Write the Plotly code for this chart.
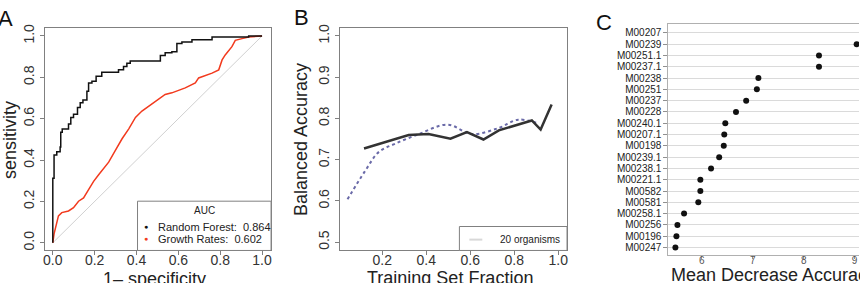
import plotly.graph_objects as go

W, H = 860, 283
FONT = "Liberation Sans, Arial, sans-serif"

def px(x):
    return x / W

def py(y):
    return 1 - y / H

# ---------------- Panel A data (ROC) ----------------
rf_fpr = [0, 0, 0.006, 0.019, 0.035, 0.038, 0.045, 0.075, 0.086, 0.099, 0.118, 0.131, 0.144, 0.163,
          0.171, 0.187, 0.207, 0.234, 0.314, 0.338, 0.354, 0.37, 0.514, 0.537, 0.569, 0.593, 0.617,
          0.665, 0.761, 0.936, 1.0]
rf_tpr = [0, 0.312, 0.424, 0.44, 0.463, 0.535, 0.55, 0.574, 0.606, 0.622, 0.654, 0.677, 0.69, 0.733,
          0.773, 0.781, 0.805, 0.824, 0.836, 0.852, 0.868, 0.879, 0.905, 0.919, 0.924, 0.963, 0.971,
          0.982, 0.995, 1.0, 1.0]
gr_fpr = [0, 0.006, 0.027, 0.043, 0.075, 0.099, 0.123, 0.147, 0.171, 0.195, 0.219, 0.243, 0.267,
          0.299, 0.331, 0.363, 0.395, 0.426, 0.474, 0.537, 0.569, 0.633, 0.681, 0.697, 0.761,
          0.793, 0.809, 0.824, 0.856, 0.872, 0.904, 0.936, 1.0]
gr_tpr = [0, 0.043, 0.13, 0.146, 0.154, 0.17, 0.201, 0.217, 0.257, 0.297, 0.329, 0.36, 0.39,
          0.447, 0.503, 0.551, 0.606, 0.637, 0.67, 0.717, 0.725, 0.749, 0.773, 0.797, 0.82,
          0.836, 0.884, 0.908, 0.948, 0.979, 0.987, 0.995, 1.0]
auc_labels = ["Random Forest:  0.864", "Growth Rates:  0.602"]
roc_ticks = [0.0, 0.2, 0.4, 0.6, 0.8, 1.0]

# ---------------- Panel B data ----------------
b_x_solid = [0.117, 0.32, 0.41, 0.51, 0.585, 0.66, 0.73, 0.88, 0.92, 0.97]
b_y_solid = [0.727, 0.76, 0.762, 0.751, 0.767, 0.749, 0.771, 0.795, 0.773, 0.834]
b_x_dot = [0.042, 0.12, 0.185, 0.26, 0.366, 0.497, 0.607, 0.73, 0.818, 0.91]
b_y_dot = [0.604, 0.671, 0.719, 0.739, 0.762, 0.785, 0.762, 0.777, 0.797, 0.788]
b_xticks = [0.2, 0.4, 0.6, 0.8, 1.0]
b_yticks = [0.5, 0.6, 0.7, 0.8, 0.9, 1.0]

# ---------------- Panel C data ----------------
motifs = ["M00207", "M00239", "M00251.1", "M00237.1", "M00238", "M00251", "M00237", "M00228",
          "M00240.1", "M00207.1", "M00198", "M00239.1", "M00238.1", "M00221.1", "M00582",
          "M00581", "M00258.1", "M00256", "M00196", "M00247"]
mda = [9.5, 9.04, 8.30, 8.30, 7.11, 7.08, 6.87, 6.67, 6.46, 6.44, 6.43, 6.34, 6.18, 5.97, 5.97,
       5.93, 5.65, 5.52, 5.50, 5.48]
c_xticks = [6, 7, 8, 9]

fig = go.Figure()

# Panel A
fig.add_trace(go.Scatter(x=[0, 1], y=[0, 1], mode="lines", line=dict(color="#d0d0d0", width=1),
                         xaxis="x", yaxis="y", showlegend=False, hoverinfo="skip"))
fig.add_trace(go.Scatter(x=gr_fpr, y=gr_tpr, mode="lines", line=dict(color="#f23a1e", width=1.5),
                         xaxis="x", yaxis="y", showlegend=False))
fig.add_trace(go.Scatter(x=rf_fpr, y=rf_tpr, mode="lines", line=dict(color="#111111", width=1.5, shape="hv"),
                         xaxis="x", yaxis="y", showlegend=False))

# Panel B
fig.add_trace(go.Scatter(x=b_x_dot, y=b_y_dot, mode="lines", line=dict(color="#6a6aa8", width=2, dash="dot", shape="spline"),
                         xaxis="x2", yaxis="y2", showlegend=False))
fig.add_trace(go.Scatter(x=b_x_solid, y=b_y_solid, mode="lines", line=dict(color="#333333", width=2.5),
                         xaxis="x2", yaxis="y2", showlegend=False))

# Panel C
fig.add_trace(go.Scatter(x=mda, y=motifs, mode="markers", marker=dict(color="#111111", size=6),
                         xaxis="x3", yaxis="y3", showlegend=False))

def ax(**kw):
    d = dict(showline=True, linecolor="#808080", linewidth=1, mirror=True, ticks="outside",
             ticklen=4, tickcolor="#808080", showgrid=False, zeroline=False,
             tickfont=dict(family=FONT, size=14, color="#333333"))
    d.update(kw)
    return d

fig.update_layout(
    width=W, height=H, margin=dict(l=0, r=0, t=0, b=0),
    paper_bgcolor="white", plot_bgcolor="white",
    xaxis=ax(domain=[px(43), px(270)], range=[-0.038, 1.043], tickvals=roc_ticks,
             ticktext=["0.0", "0.2", "0.4", "0.6", "0.8", "1.0"], anchor="y", ticklabelstandoff=-7),
    yaxis=ax(domain=[py(250), py(24)], range=[-0.037, 1.04], tickvals=roc_ticks,
             ticktext=["0.0", "0.2", "0.4", "0.6", "0.8", "1.0"], tickangle=-90, anchor="x"),
    xaxis2=ax(domain=[px(339), px(567)], range=[0.007, 1.04], tickvals=b_xticks,
              ticktext=["0.2", "0.4", "0.6", "0.8", "1.0"], anchor="y2", ticklabelstandoff=-7),
    yaxis2=ax(domain=[py(250), py(24)], range=[0.48, 1.02], tickvals=b_yticks,
              ticktext=["0.5", "0.6", "0.7", "0.8", "0.9", "1.0"], tickangle=-90, anchor="x2"),
    xaxis3=dict(domain=[px(668.7), 1.0], range=[5.342, 9.086], tickvals=c_xticks,
                showline=True, linecolor="#b0b0b0", mirror=True, ticks="outside", ticklen=3,
                tickcolor="#909090", showgrid=False, zeroline=False, anchor="y3", ticklabelstandoff=-7,
                tickfont=dict(family=FONT, size=10, color="#555555")),
    yaxis3=dict(domain=[py(255), py(20.7)], type="category", categoryorder="array",
                categoryarray=motifs[::-1], range=[-0.7, 19.75], anchor="x3",
                tickmode="array", tickvals=motifs, ticktext=motifs,
                showline=True, linecolor="#b0b0b0", mirror=False, ticks="outside", ticklen=4,
                tickcolor="#909090", showgrid=True, gridcolor="#dadada", gridwidth=1, zeroline=False,
                tickfont=dict(family=FONT, size=10, color="#222222")),
)

ann = []
for lab, x, y in [("A", 4, 15), ("B", 301, 14), ("C", 604, 19)]:
    ann.append(dict(text=lab, x=px(x), y=py(y), xref="paper", yref="paper", showarrow=False,
                    font=dict(family=FONT, size=22, color="#111"), xanchor="center", yanchor="middle"))
ann.append(dict(text="sensitivity", x=px(8), y=py(138), xref="paper", yref="paper", showarrow=False,
                textangle=-90, font=dict(family=FONT, size=18, color="#222"), xanchor="center", yanchor="middle"))
ann.append(dict(text="Balanced Accuracy", x=px(300), y=py(137), xref="paper", yref="paper", showarrow=False,
                textangle=-90, font=dict(family=FONT, size=18, color="#222"), xanchor="center", yanchor="middle"))
ann.append(dict(text="1\u2013 specificity", x=px(153), y=py(267), xref="paper", yref="paper", showarrow=False,
                font=dict(family=FONT, size=18, color="#222"), xanchor="center", yanchor="top"))
ann.append(dict(text="Training Set Fraction", x=px(450), y=py(266), xref="paper", yref="paper", showarrow=False,
                font=dict(family=FONT, size=18, color="#222"), xanchor="center", yanchor="top"))
ann.append(dict(text="Mean Decrease Accuracy", x=px(669), y=py(263), xref="paper", yref="paper", showarrow=False,
                font=dict(family=FONT, size=18, color="#222"), xanchor="left", yanchor="top"))
# legend A
ann.append(dict(text="AUC", x=px(203), y=py(209), xref="paper", yref="paper", showarrow=False,
                font=dict(family=FONT, size=10, color="#222"), xanchor="center", yanchor="middle"))
for i, (lab, col) in enumerate(zip(auc_labels, ["#111111", "#f23a1e"])):
    yy = [226, 238][i]
    ann.append(dict(text="\u25CF", x=px(145), y=py(yy), xref="paper", yref="paper", showarrow=False,
                    font=dict(family=FONT, size=7, color=col), xanchor="center", yanchor="middle"))
    ann.append(dict(text=lab, x=px(155), y=py(yy), xref="paper", yref="paper", showarrow=False,
                    font=dict(family=FONT, size=11, color="#222"), xanchor="left", yanchor="middle"))
# legend B
ann.append(dict(text="20 organisms", x=px(498), y=py(239), xref="paper", yref="paper", showarrow=False,
                font=dict(family=FONT, size=10, color="#222"), xanchor="left", yanchor="middle"))

shapes = [
    dict(type="rect", xref="paper", yref="paper", x0=px(136), x1=px(270), y0=py(250), y1=py(200),
         line=dict(color="#808080", width=1), fillcolor="white", layer="above"),
    dict(type="rect", xref="paper", yref="paper", x0=px(459), x1=px(567), y0=py(250), y1=py(225.7),
         line=dict(color="#808080", width=1), fillcolor="white", layer="above"),
    dict(type="line", xref="paper", yref="paper", x0=px(469), x1=px(482), y0=py(239), y1=py(239),
         line=dict(color="#d8d8d8", width=2), layer="above"),
]
fig.update_layout(annotations=ann, shapes=shapes)

fig.write_html("out.html")
